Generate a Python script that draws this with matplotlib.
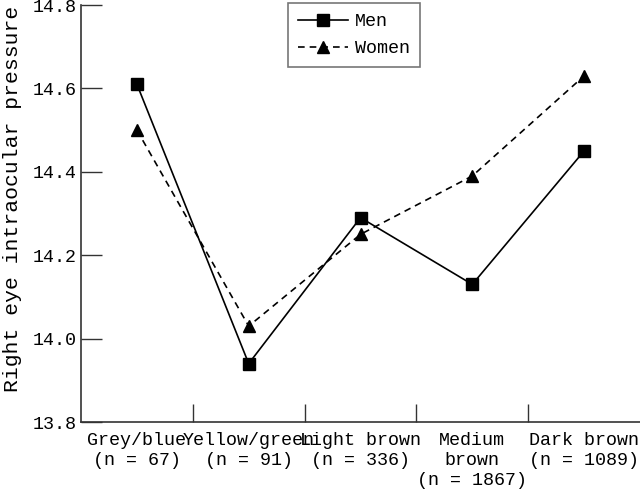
import matplotlib
matplotlib.use("Agg")
import matplotlib.pyplot as plt

categories = ["Grey/blue\n(n = 67)", "Yellow/green\n(n = 91)", "Light brown\n(n = 336)",
              "Medium\nbrown\n(n = 1867)", "Dark brown\n(n = 1089)"]
men = [14.61, 13.94, 14.29, 14.13, 14.45]
women = [14.50, 14.03, 14.25, 14.39, 14.63]
yticks = [13.8, 14.0, 14.2, 14.4, 14.6, 14.8]

plt.rcParams['font.family'] = ['Liberation Mono', 'DejaVu Sans Mono']

fig = plt.figure(figsize=(6.4, 4.94), dpi=100)
ax = fig.add_axes([81/640, 1-422/494, 1-81/640, (422-5)/494])

x = list(range(len(categories)))
ax.plot(x, men, color='black', lw=1.2, marker='s', ms=8, label='Men')
ax.plot(x, women, color='black', lw=1.2, ls=(0, (4, 3)), marker='^', ms=8.5, label='Women')

ax.set_xlim(-0.5, len(categories) - 0.5)
ax.set_ylim(13.8, 14.8)
ax.set_yticks(yticks)
ax.set_yticklabels([f"{v:.1f}" for v in yticks])

ax.set_xticks([i + 0.5 for i in range(len(categories) - 1)])
ax.set_xticklabels([])
ax.set_xticks(x, minor=True)
ax.set_xticklabels(categories, minor=True, fontsize=13.2, linespacing=1.25)
ax.tick_params(axis='x', which='minor', length=0, pad=7)
ax.tick_params(axis='x', which='major', direction='in', length=13, width=1, color='#333333')
ax.tick_params(axis='y', direction='in', length=15, width=1, color='#333333', labelsize=13.2, pad=3)

for s in ['top', 'right']:
    ax.spines[s].set_visible(False)
for s in ['left', 'bottom']:
    ax.spines[s].set_color('#333333')
    ax.spines[s].set_linewidth(1.2)

ax.set_ylabel("Right eye intraocular pressure", fontsize=15.4)
ax.yaxis.set_label_coords(-0.105, 0.535)

leg = ax.legend(loc='upper left', bbox_to_anchor=(288/640, 1-3/494), bbox_transform=fig.transFigure,
                fontsize=13.2, frameon=True, fancybox=False, edgecolor='#555555',
                handlelength=2.7, borderpad=0.55, labelspacing=0.55, handletextpad=0.4,
                borderaxespad=0)
leg.get_frame().set_linewidth(1.2)

fig.savefig("out.png", dpi=100)
